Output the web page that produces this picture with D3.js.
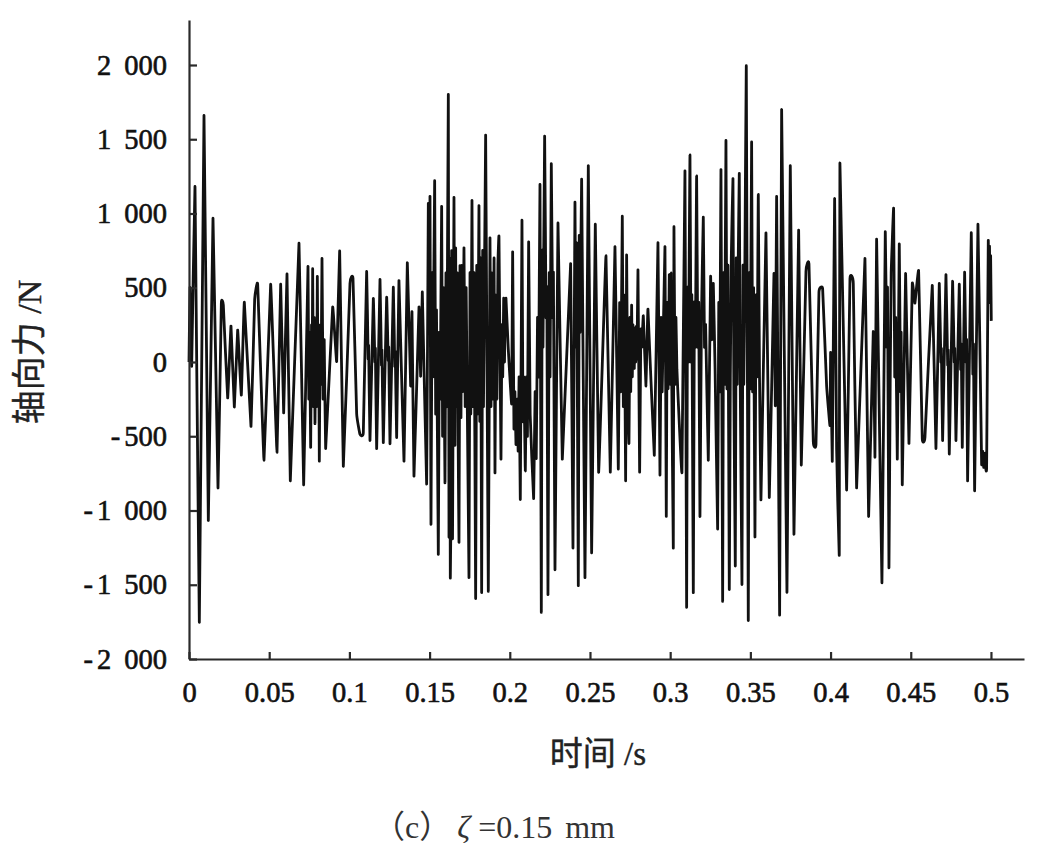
<!DOCTYPE html>
<html><head><meta charset="utf-8">
<script src="https://cdnjs.cloudflare.com/ajax/libs/d3/7.8.5/d3.min.js"></script>
<style>html,body{margin:0;background:#fff}svg{display:block}</style></head>
<body><svg id="c" width="1039" height="858"></svg>
<script>
const timeMs=[
0,.62,1.66,3.74,6.44,9.35,12.05,14.96,18.08,20.16,
21.4,24.11,26.18,28.26,30.34,32.63,34.5,38.65,40.94,42.81,
46.76,50.91,54.86,57.15,59.02,61.1,63.17,68.58,71.49,
74.19,74.7,75.2,75.85,76.4,76.75,77.1,77.6,78.1,78.55,
79.1,79.55,80.01,80.5,80.85,81.25,81.8,82.3,82.92,83.6,84.3,85.2,
89.57,92.06,93.93,96.22,100.37,102.24,104.53,106.61,108.68,
110.76,111.7,112,112.84,114.92,115.9,116.2,117,119.08,120,
120.3,121.15,123.23,124.2,124.5,125.31,127.39,128.3,128.6,129.47,130.9,
134.04,136.12,138.19,139.02,140.27,143.39,144.43,145.47,148.17,
149.21,149.83,150.25,150.87,151.6,152.1,153.16,153.8,154.3,155.44,
156.1,156.6,157.52,158.1,158.6,159.6,160.2,160.7,161.68,162.1,
162.45,162.92,163.4,163.75,164.3,164.7,165.21,165.83,166.25,166.7,
167.29,167.8,168.33,168.95,169.57,170.1,170.6,171.44,172.2,172.8,
174.56,175.2,175.7,176.43,177.1,177.7,178.72,179.4,179.9,180.79,
181.3,181.8,182.46,183.1,183.6,184.95,186.61,187.65,188.3,188.9,
189.6,190.2,190.77,191.4,192,192.6,193.26,194.51,195.1,195.6,
196.2,196.7,197.2,197.63,199,201.16,201.78,202.6,203.2,203.86,
204.6,205.2,205.8,206.56,207.6,208.2,208.8,209.68,210.4,211,
211.76,212.7,214.87,215.8,216.5,217.3,218,218.83,219.66,220.2,
220.7,221.73,222.6,223.1,223.81,224.6,225.1,225.89,226.7,227.2,
228.18,230.05,232.75,237.94,239.4,240.64,241.2,241.7,242.72,243.3,
243.8,244.8,246.88,248.96,251.03,253.32,255.4,259.97,262.67,265.58,
267.66,268.5,269.2,270.15,270.8,271.4,272.23,272.85,273.5,274.31,
274.9,275.4,275.97,276.4,276.8,277.63,278.1,278.5,278.9,279.3,
279.92,280.96,281.7,282.3,283.25,284.9,286.15,290.1,292.39,293.64,
294.4,295,296.75,297.58,298.1,298.7,299.45,300,300.5,301,
301.95,302.36,303,303.6,304.2,305.2,307.35,309.22,310.26,310.8,
311.4,312.34,313,313.5,314.42,315.1,315.7,316.49,317.2,317.8,
318.57,319.5,320.65,321.4,322.1,323.77,325.22,326,326.89,328,
329.59,330.3,330.9,331.67,332.71,333.3,333.9,334.78,335.4,336,
336.86,337.5,338.1,339.15,339.7,340.6,341.2,341.8,342.4,343.09,
343.7,344.76,345.4,345.9,346.5,347.46,348.7,349.3,349.9,350.78,
351.4,352,352.86,353.5,354.2,354.94,355.7,356.6,359.72,361.8,
364.71,365.54,366.37,368.24,369.49,372.81,374.89,377.18,380.09,381.75,
384.66,386.53,389.23,390.9,392.76,395.05,397.54,399.62,400.03,401.07,
402.53,403.78,405.42,405.83,410.01,412.09,414.17,416.24,421.44,423.72,
426.63,427.67,428.71,432.03,434.11,435,435.5,436.4,437.2,437.8,
439.31,440,440.6,441.6,442.84,443.6,444,444.71,446.79,448.87,
450.95,452.61,454.9,457.18,458.84,463.42,465.7,467.78,468.8,469.1,
469.86,471.94,473,473.3,474.02,476.09,477.1,477.4,478.17,480.25,
481.1,481.5,482.12,483.58,484.4,484.8,485.44,487.73,488.7,489.1,
489.81,491.89,494.17,494.8,495.4,496.25,496.8,497.29,498.33,498.8,
499.1,499.4,499.79,500.2];
const axialForce=[
0,503,-28,1180,-1753,1660,-1067,968,-848,396,
383,-242,242,-303,215,-223,402,-434,423,524,
-662,524,-609,524,-343,593,-800,800,-827,
644,-250,200,-575,250,-200,628,-300,300,-415,
250,-300,577,-200,200,-668,250,-150,697,-250,150,-583,
370,3,747,-702,529,564,-348,-487,-476,
609,20,110,-529,428,0,90,-583,556,-20,
80,-543,436,10,100,-551,503,-30,70,-508,548,
-668,668,-162,338,-769,370,-96,471,-822,
1067,300,1114,-1093,600,-100,1221,-350,350,-1295,
200,-250,1048,-500,500,-814,600,-300,1801,-1180,
700,-1452,-900,750,-1190,-100,1109,-561,769,-300,
600,-500,-1213,649,-375,650,-200,769,-300,500,
-1452,600,-350,1088,-300,600,-1593,650,-350,1053,
-400,700,-1553,750,-300,1527,-1545,835,-300,600,
-250,700,-747,450,-250,650,843,-654,250,-100,
430,0,380,428,100,-282,742,-450,-200,-556,
-250,-600,-100,-925,955,-400,-100,-734,-100,-500,
809,-350,-920,-200,-650,300,-100,1194,-1686,750,
100,1521,300,500,-1567,600,-100,1335,300,600,
-1399,936,-654,662,-1253,1075,100,800,-1506,850,
200,1229,-1452,1322,-1285,928,-742,716,-742,777,
-721,400,-200,982,-300,450,-800,721,-250,-548,
300,-200,383,-100,250,-43,230,0,240,20,
620,-742,220,100,311,-162,356,-628,803,-761,
300,-200,777,-1040,400,-180,588,-150,600,-150,
-1253,910,-150,300,-50,-300,-742,1287,-1652,500,
0,1394,0,450,-1553,400,100,1253,100,400,
-1040,300,976,100,250,-662,577,150,529,-50,
-1125,400,-200,1295,-1612,600,-150,1492,-180,650,
-1532,-100,700,1234,-190,-1373,700,-150,650,1269,
-170,-1498,650,-150,550,1992,-1740,600,-180,1482,
-200,500,-1178,450,-100,1128,-100,-928,870,-912,
596,-295,1114,-1705,1700,-1551,1322,-1160,888,-694,
609,662,-535,-556,471,495,-162,-428,64,-668,
1101,-588,-1298,1340,-862,561,529,-848,697,-1040,
205,-641,827,-1487,875,100,500,-1386,-100,600,
1035,-100,300,-654,795,-200,200,-827,596,-548,
529,396,614,-516,-508,516,-583,529,0,90,
-529,588,-20,80,-620,543,0,90,-529,524,
-50,120,-575,604,0,150,-800,870,-80,120,
-867,928,-681,-600,-710,-614,-720,-708,817,400,
780,400,716,277];
if(timeMs.length!==axialForce.length) throw new Error("len "+timeMs.length+" vs "+axialForce.length);
const xTicks=[0,.05,.1,.15,.2,.25,.3,.35,.4,.45,.5];
const xTickLabels=["0","0.05","0.1","0.15","0.2","0.25","0.3","0.35","0.4","0.45","0.5"];
const yTicks=[-2000,-1500,-1000,-500,0,500,1000,1500,2000];
const yTickLabels=["-2 000","-1 500","-1 000","-500","0","500","1 000","1 500","2 000"];

const svg=d3.select("#c");
const x=d3.scaleLinear().domain([0,.5206]).range([189,1024]);
const y=d3.scaleLinear().domain([-2000,2303]).range([659,20]);
const serif='"Liberation Serif","Noto Sans CJK SC",serif';
const line=d3.line().x((d,i)=>x(timeMs[i]/1000)).y(d=>y(d)).curve(d3.curveCardinal.tension(.8));
svg.append("path").datum(axialForce).attr("d",line).attr("fill","none")
  .attr("stroke","#111").attr("stroke-width",2.8).attr("stroke-linejoin","round");
const xa=svg.append("g").attr("transform","translate(0,659)")
  .call(d3.axisBottom(x).tickValues(xTicks).tickFormat((d,i)=>xTickLabels[i]).tickSizeInner(-7).tickSizeOuter(0).tickPadding(22));
const ya=svg.append("g").attr("transform","translate(189,0)")
  .call(d3.axisLeft(y).tickValues(yTicks).tickFormat((d,i)=>yTickLabels[i]).tickSizeInner(-8).tickSizeOuter(0).tickPadding(22));
[xa,ya].forEach(a=>{a.selectAll("path,line").attr("stroke","#2a2a2a").attr("stroke-width",2.2);
  a.selectAll("text").attr("fill","#111").style("font-family",serif).style("font-size","28.5px").attr("stroke","#111").attr("stroke-width",.6);});
xa.selectAll("text").attr("dy","0.72em");
ya.selectAll("text").style("word-spacing","6px").each(function(){
  const s=this.textContent;
  if(s[0]==="-"){const t=d3.select(this);t.text("");t.append("tspan").text("-");t.append("tspan").attr("dx",4).text(s.slice(1));}
});
svg.append("text").attr("transform","translate(41,352) rotate(-90)").attr("text-anchor","middle")
  .style("font-family",serif).style("font-size","34px").attr("fill","#222").attr("stroke","#222").attr("stroke-width",.4).text("轴向力 /N");
svg.append("text").attr("x",598).attr("y",765).attr("text-anchor","middle")
  .style("font-family",serif).style("font-size","33px").attr("fill","#222").attr("stroke","#222").attr("stroke-width",.4).text("时间 /s");
const cap=svg.append("text").attr("x",373).attr("y",838).style("font-family",serif).style("font-size","32px").attr("fill","#333");
cap.append("tspan").text("（c）");
cap.append("tspan").attr("dx",6).style("font-style","italic").text("ζ");
cap.append("tspan").attr("dx",8).style("word-spacing","5px").text("=0.15 mm");
</script></body></html>
